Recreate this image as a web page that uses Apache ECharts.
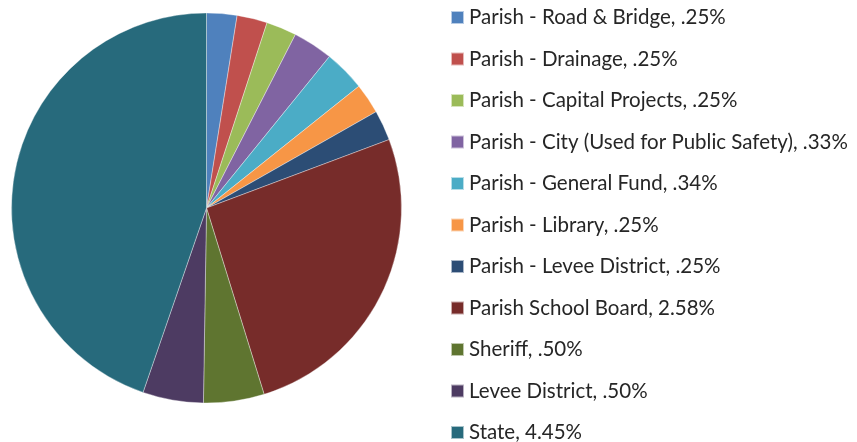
<!DOCTYPE html>
<html><head><meta charset="utf-8">
<script src="https://cdn.jsdelivr.net/npm/echarts@6/dist/echarts.min.js"></script>
<style>html,body{margin:0;padding:0;background:#fff}#c{width:857px;height:442px}</style>
</head><body><div id="c"></div>
<script>
const categories = ["Parish - Road & Bridge", "Parish - Drainage", "Parish - Capital Projects", "Parish - City (Used for Public Safety)", "Parish - General Fund", "Parish - Library", "Parish - Levee District", "Parish School Board", "Sheriff", "Levee District", "State"];
const valueLabels = [".25%", ".25%", ".25%", ".33%", ".34%", ".25%", ".25%", "2.58%", ".50%", ".50%", "4.45%"];
const values = [0.25, 0.25, 0.25, 0.33, 0.34, 0.25, 0.25, 2.58, 0.50, 0.50, 4.45];
const colors = ["#4F81BD", "#C0504D", "#9BBB59", "#8064A2", "#4BACC6", "#F79646", "#2C4D75", "#772C2A", "#5F7530", "#4D3B62", "#276A7C"];

const names = categories.map((c, i) => c + ", " + valueLabels[i]);
const chart = echarts.init(document.getElementById('c'), null, {renderer: 'canvas'});
chart.setOption({
  animation: false,
  color: colors,
  legend: {
    orient: 'vertical',
    left: 450,
    top: 7,
    height: 600,
    padding: 0,
    itemWidth: 13,
    itemHeight: 13,
    itemGap: 20.5,
    icon: 'rect',
    data: names,
    textStyle: {fontFamily: 'Lato', fontSize: 20.5, color: '#262626'}
  },
  series: [{
    type: 'pie',
    center: [206.5, 208],
    radius: [0, 195],
    startAngle: 90,
    clockwise: true,
    label: {show: false},
    labelLine: {show: false},
    itemStyle: {borderColor: 'rgba(255,255,255,0.6)', borderWidth: 0.6},
    data: names.map((n, i) => ({name: n, value: values[i]}))
  }]
});
</script></body></html>
